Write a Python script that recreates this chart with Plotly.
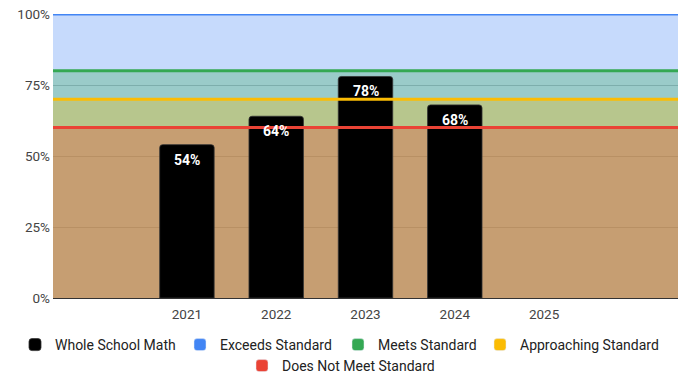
import plotly.graph_objects as go

# School-wide math proficiency by year
years = [2021, 2022, 2023, 2024, 2025]
whole_school_math = [54, 64, 78, 68, None]

# Performance bands (upper bound of each band, %)
band_names = ["Exceeds Standard", "Meets Standard", "Approaching Standard", "Does Not Meet Standard"]
band_values = [100, 80, 70, 60]
band_colors = ["#4285f4", "#34a853", "#fbbc04", "#ea4335"]

y_ticks = [0, 25, 50, 75, 100]
y_tick_text = [f"{v}%" for v in y_ticks]

FONT = "Roboto"


def rgba(hex_color, alpha):
    h = hex_color.lstrip("#")
    r, g, b = (int(h[i:i + 2], 16) for i in (0, 2, 4))
    return f"rgba({r},{g},{b},{alpha})"


# one empty category slot on each side of the year range
x_lo = years[0] - 1.5
x_hi = years[-1] + 1.5

fig = go.Figure()

# translucent stepped areas (base subplot, under the bars)
for name, val, col in zip(band_names, band_values, band_colors):
    fig.add_trace(go.Scatter(
        x=[x_lo, x_hi], y=[val, val], mode="lines", fill="tozeroy",
        fillcolor=rgba(col, 0.3), line=dict(width=0, color=col),
        showlegend=False, hoverinfo="skip", xaxis="x", yaxis="y"))

# bars (first overlay)
legend_ids = ["legend", "legend2", "legend3", "legend4", "legend5"]
fig.add_trace(go.Bar(
    x=years, y=whole_school_math, name="Whole School Math",
    marker=dict(color="#000000", line=dict(color="#333333", width=0.8)),
    width=0.61, xaxis="x2", yaxis="y2", legend=legend_ids[0],
    hovertemplate="%{x}: %{y}%<extra></extra>"))

# legend swatches for the bands
for i, (name, col) in enumerate(zip(band_names, band_colors)):
    fig.add_trace(go.Bar(
        x=[None], y=[None], name=name, marker=dict(color=col),
        xaxis="x2", yaxis="y2", legend=legend_ids[i + 1]))

# band boundary lines (second overlay, above the bars)
for name, val, col in zip(band_names, band_values, band_colors):
    fig.add_trace(go.Scatter(
        x=[x_lo, x_hi], y=[val, val], mode="lines",
        line=dict(color=col, width=3), showlegend=False,
        hoverinfo="skip", xaxis="x3", yaxis="y3"))

# value labels just inside the top of each bar
for x, v in zip(years, whole_school_math):
    if v is None:
        continue
    fig.add_annotation(
        x=x, y=v, xref="x3", yref="y3", text=f"{v}%", showarrow=False,
        yanchor="top", yshift=-5,
        font=dict(family=FONT, size=14, color="#ffffff", weight="bold"))

x_common = dict(range=[x_lo, x_hi], fixedrange=True)
y_common = dict(range=[0, 100], fixedrange=True)


def legend_at(x_px, y_px, anchor="left"):
    return dict(
        orientation="h", xref="container", yref="container",
        xanchor=anchor, yanchor="middle", x=x_px / 682, y=1 - y_px / 375,
        font=dict(family=FONT, size=14, color="#222222"),
        bgcolor="rgba(0,0,0,0)")


fig.update_layout(
    width=682, height=375,
    margin=dict(l=53, r=4, t=14, b=77),
    paper_bgcolor="#ffffff", plot_bgcolor="#ffffff",
    font=dict(family=FONT, size=13, color="#444444"),
    barmode="overlay", barcornerradius=3,
    xaxis=dict(**x_common, tickmode="array", tickvals=years,
               ticktext=[str(y) for y in years], showgrid=False,
               showline=False, zeroline=False, ticks="",
               ticklabelstandoff=6,
               tickfont=dict(family=FONT, size=13.5, color="#444444")),
    xaxis2=dict(**x_common, overlaying="x", visible=False),
    xaxis3=dict(**x_common, overlaying="x", showgrid=False, zeroline=False,
                showticklabels=False, ticks="", showline=True,
                linecolor="#333333", linewidth=1.2),
    yaxis=dict(**y_common, tickmode="array", tickvals=y_ticks,
               ticktext=y_tick_text, showgrid=True, gridcolor="#c4c4c4",
               gridwidth=1, zeroline=False, showline=False, ticks="",
               ticklabelstandoff=2,
               tickfont=dict(family=FONT, size=13.5, color="#444444")),
    yaxis2=dict(**y_common, overlaying="y", visible=False),
    yaxis3=dict(**y_common, overlaying="y", visible=False),
    legend=legend_at(15, 345),
    legend2=legend_at(180, 345),
    legend3=legend_at(338, 345),
    legend4=legend_at(480, 345),
    legend5=legend_at(341, 366, anchor="center"),
)

fig.write_html("out.html")
